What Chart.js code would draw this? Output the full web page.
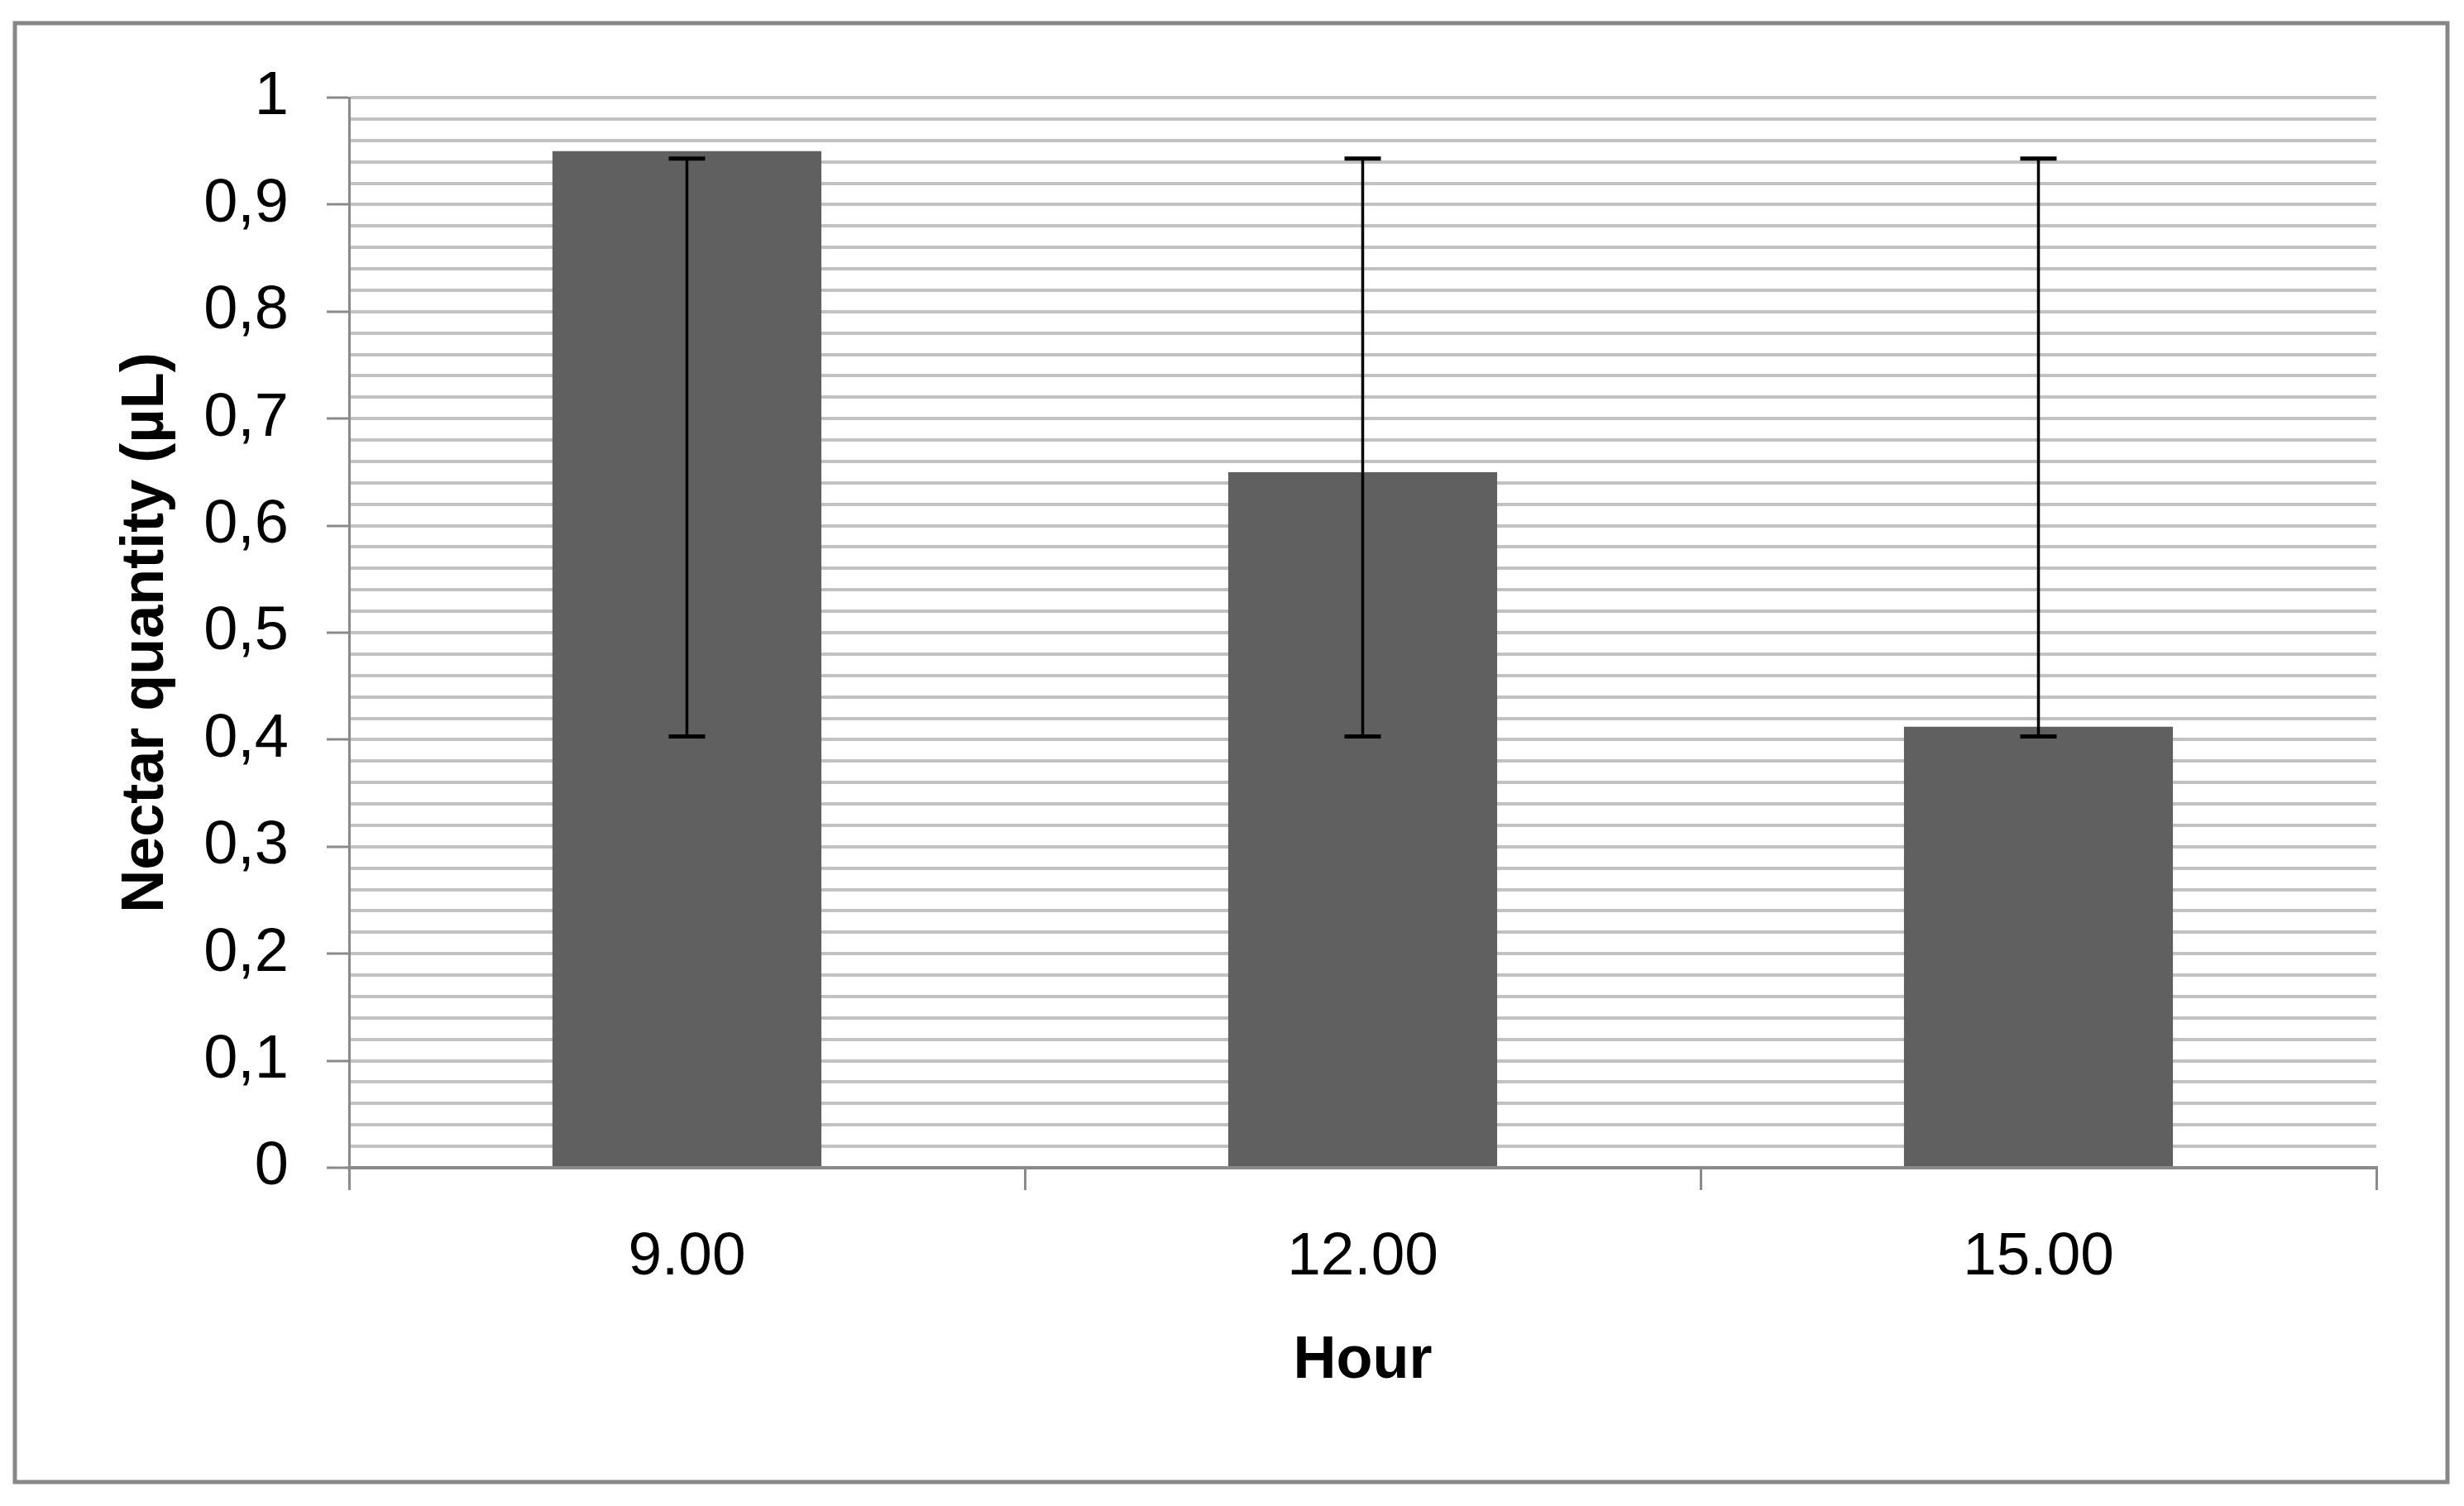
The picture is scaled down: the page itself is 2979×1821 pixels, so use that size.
<!DOCTYPE html>
<html>
<head>
<meta charset="utf-8">
<script src="https://cdn.jsdelivr.net/npm/chart.js@4"></script>
<style>
body{margin:0;background:#fff;}
canvas{display:block;}
</style>
</head>
<body>
<canvas id="chart" width="2979" height="1821"></canvas>
<script>

// values
const hours = ["9.00", "12.00", "15.00"];
const nectar = [0.95, 0.65, 0.412];
const errLow = [0.403, 0.403, 0.403];
const errHigh = [0.943, 0.943, 0.943];

const yMin = 0;
const yMax = 1;
const minorStep = 0.02;
const majorStep = 0.1;

const axisGray = "#8a8a8a";
const gridGray = "#c2c2c2";

function isMajor(v){
  let k = v / majorStep;
  return Math.abs(k - Math.round(k)) < 1e-6;
}

function fmt(v){
  let r = Math.round(v * 10) / 10;
  return String(r).replace(".", ",");
}

// outer frame + white page
const frame = {
  id: "frame",
  beforeDraw(chart){
    let c = chart.ctx;
    c.save();
    c.fillStyle = "#fff";
    c.fillRect(0, 0, chart.width, chart.height);
    c.restore();
  },
  afterDraw(chart){
    let c = chart.ctx;
    c.save();
    c.strokeStyle = "#878787";
    c.lineWidth = 5;
    c.strokeRect(18, 28, 2941, 1764);
    c.restore();
  }
};

// error bars drawn through the scales
const errorBars = {
  id: "errorBars",
  afterDatasetsDraw(chart){
    let c = chart.ctx;
    let y = chart.scales.y;
    let meta = chart.getDatasetMeta(0);
    c.save();
    c.strokeStyle = "#000";
    c.lineCap = "butt";
    meta.data.forEach((bar, i) => {
      let x = bar.x;
      let top = y.getPixelForValue(errHigh[i]);
      let bot = y.getPixelForValue(errLow[i]);
      c.lineWidth = 3.5;
      c.beginPath();
      c.moveTo(x, top);
      c.lineTo(x, bot);
      c.stroke();
      c.lineWidth = 5;
      c.beginPath();
      c.moveTo(x - 22, top);
      c.lineTo(x + 22, top);
      c.moveTo(x - 22, bot);
      c.lineTo(x + 22, bot);
      c.stroke();
    });
    c.restore();
  }
};

new Chart(document.getElementById("chart"), {
  type: "bar",
  data: {
    labels: hours,
    datasets: [{
      data: nectar,
      backgroundColor: "#606060",
      borderWidth: 0,
      barPercentage: 0.398,
      categoryPercentage: 1
    }]
  },
  options: {
    responsive: false,
    animation: false,
    devicePixelRatio: 1,
    layout: { padding: { left: 134, top: 118, right: 106, bottom: 132 } },
    plugins: {
      legend: { display: false },
      tooltip: { enabled: false }
    },
    scales: {
      x: {
        afterFit(s){ s.height = 277; },
        grid: {
          offset: true,
          drawOnChartArea: false,
          drawTicks: true,
          tickLength: 27,
          tickColor: axisGray,
          tickWidth: 3,
          lineWidth: 3
        },
        border: { color: axisGray, width: 4 },
        ticks: {
          color: "#000",
          padding: 38,
          font: { family: "Liberation Sans", size: 73 }
        },
        title: {
          display: true,
          text: "Hour",
          color: "#000",
          padding: 0,
          font: { family: "Liberation Sans", size: 72, weight: "bold" }
        }
      },
      y: {
        min: yMin,
        max: yMax,
        afterFit(s){ s.width = 288; },
        grid: {
          color: ctx => ctx.tick && ctx.tick.value === 0 ? "rgba(0,0,0,0)" : gridGray,
          lineWidth: 4,
          tickLength: 27,
          tickWidth: 3,
          tickColor: ctx => ctx.tick && isMajor(ctx.tick.value) ? axisGray : "rgba(0,0,0,0)"
        },
        border: { color: axisGray, width: 3 },
        ticks: {
          stepSize: minorStep,
          maxTicksLimit: 100,
          autoSkip: false,
          color: "#000",
          padding: 46,
          font: { family: "Liberation Sans", size: 74 },
          callback: v => isMajor(v) ? fmt(v) : ""
        },
        title: {
          display: true,
          text: "Nectar quantity (µL)",
          color: "#000",
          padding: 0,
          font: { family: "Liberation Sans", size: 72, weight: "bold" }
        }
      }
    }
  },
  plugins: [frame, errorBars]
});

</script>
</body>
</html>
